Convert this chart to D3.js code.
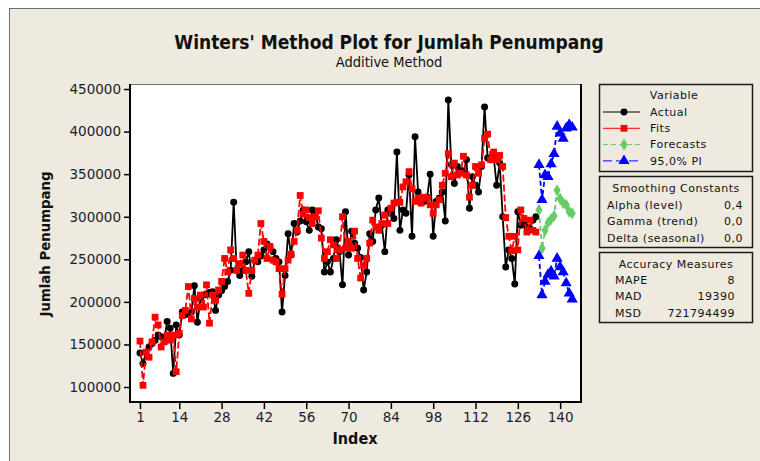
<!DOCTYPE html>
<html>
<head>
<meta charset="utf-8">
<script src="https://cdn.jsdelivr.net/npm/d3@7"></script>
<style>
  html, body { margin: 0; padding: 0; background: #ffffff; }
  svg { display: block; font-family: "DejaVu Sans", Verdana, sans-serif; }
</style>
</head>
<body>
<svg id="chart" width="760" height="461"></svg>
<script>

// values, index 1..132 actual / fits
var actual = [
    140000, 127500, 141000, 147000, 151000, 155000, 161000, 159000, 155000, 177000,
    169000, 116000, 173000, 161000, 188000, 185000, 186000, 188000, 219000, 176000,
    203000, 208000, 209000, 211000, 212000, 190000, 208000, 213000, 218000, 224000,
    237000, 317000, 237000, 231000, 237000, 247000, 259000, 230000, 249000, 247000,
    254000, 261000, 268000, 265000, 259000, 251000, 247000, 188000, 231000, 280000,
    255000, 292000, 282000, 295000, 308000, 294000, 284000, 308000, 305000, 288000,
    286000, 235000, 247000, 235000, 251000, 273000, 259000, 220000, 306000, 255000,
    283000, 269000, 263000, 252000, 214000, 235000, 280000, 271000, 308000, 322000,
    290000, 259000, 308000, 304000, 298000, 376000, 284000, 308000, 304000, 349000,
    277000, 394000, 329000, 318000, 318000, 323000, 350000, 277000, 318000, 322000,
    329000, 295000, 437000, 361000, 339000, 359000, 355000, 353000, 367000, 310000,
    347000, 337000, 329000, 359000, 429000, 369000, 367000, 371000, 337000, 363000,
    300000, 241000, 261000, 251000, 221000, 306000, 290000, 292000, 288000, 286000,
    296000, 300000
];

var fits = [
    154000, 102000, 141000, 135000, 153000, 182000, 173000, 147000, 153000, 161000,
    155000, 161000, 118000, 163000, 184000, 190000, 218000, 180000, 204000, 194000,
    208000, 194000, 220000, 175000, 208000, 202000, 214000, 224000, 251000, 235000,
    261000, 251000, 237000, 245000, 255000, 237000, 210000, 237000, 249000, 255000,
    292000, 271000, 251000, 265000, 249000, 247000, 239000, 209000, 239000, 249000,
    256000, 271000, 284000, 325000, 303000, 308000, 299000, 292000, 300000, 307000,
    275000, 251000, 259000, 273000, 267000, 251000, 261000, 300000, 263000, 271000,
    263000, 283000, 251000, 228000, 243000, 251000, 269000, 296000, 288000, 284000,
    292000, 302000, 292000, 310000, 316000, 317000, 317000, 335000, 341000, 353000,
    333000, 318000, 322000, 316000, 323000, 322000, 314000, 304000, 314000, 320000,
    337000, 351000, 374000, 347000, 363000, 349000, 351000, 371000, 349000, 323000,
    337000, 359000, 351000, 361000, 392000, 397000, 367000, 376000, 367000, 372000,
    359000, 299000, 277000, 260000, 277000, 261000, 308000, 298000, 282000, 296000,
    284000, 282000
];

// index 133..144
var forecasts = [308000, 263000, 284000, 293000, 297000, 301000, 331000, 321000, 316000, 314000, 306000, 304000];
var piUpper = [361000, 320000, 349000, 347000, 362000, 374000, 406000, 398000, 392000, 404000, 408000, 405000];
var piLower = [254000, 208000, 224000, 232000, 236000, 230000, 251000, 241000, 235000, 222000, 210000, 203000];

var xTicks = [1, 14, 28, 42, 56, 70, 84, 98, 112, 126, 140];
var yTicks = [100000, 150000, 200000, 250000, 300000, 350000, 400000, 450000];

var legendItems = ['Actual', 'Fits', 'Forecasts', '95,0% PI'];
var smoothLabels = ['Alpha (level)', 'Gamma (trend)', 'Delta (seasonal)'];
var smoothValues = ['0,4', '0,0', '0,0'];
var accuracyLabels = ['MAPE', 'MAD', 'MSD'];
var accuracyValues = ['8', '19390', '721794499'];

var svg = d3.select('#chart');

var plotLeft = 130,
    plotRight = 581,
    plotTop = 84,
    plotBottom = 402;

var bg = '#eeeae0';

// outer panel
svg.append('rect')
    .attr('x', 9.5)
    .attr('y', 8.5)
    .attr('width', 760)
    .attr('height', 460)
    .style('fill', bg)
    .style('stroke', '#6e6e6e')
    .style('stroke-width', 1);

svg.append('rect')
    .attr('x', plotLeft)
    .attr('y', plotTop)
    .attr('width', plotRight - plotLeft)
    .attr('height', plotBottom - plotTop)
    .style('fill', '#ffffff');

var x = d3.scaleLinear()
    .domain([ -2.3, 146.9 ])
    .range([ plotLeft, plotRight ]);

var y = d3.scaleLinear()
    .domain([ 82400, 455900 ])
    .range([ plotBottom, plotTop ]);

var actualPts = actual.map( function ( d, i ) { return [ i + 1, d ]; });
var fitPts = fits.map( function ( d, i ) { return [ i + 1, d ]; });
var fcPts = forecasts.map( function ( d, i ) { return [ i + 133, d ]; });
var upPts = piUpper.map( function ( d, i ) { return [ i + 133, d ]; });
var loPts = piLower.map( function ( d, i ) { return [ i + 133, d ]; });

var line = d3.line()
    .x( function ( d ) { return x( d[0] ); })
    .y( function ( d ) { return y( d[1] ); });

var plot = svg.append('g');

function drawLine ( pts, color, dash ) {

    plot.append('path')
        .attr('d', line( pts ))
        .style('fill', 'none')
        .style('stroke', color)
        .style('stroke-width', 1.8)
        .style('stroke-dasharray', dash || null);

}

var sym = {
    circle: d3.symbol().type( d3.symbolCircle ).size( 38 ),
    square: d3.symbol().type( d3.symbolSquare ).size( 46 ),
    diamond: d3.symbol().type( d3.symbolDiamond ).size( 44 ),
    triangle: d3.symbol().type( d3.symbolTriangle ).size( 54 )
};

function drawMarks ( pts, shape, color ) {

    plot.append('g')
        .selectAll('path')
        .data( pts )
        .enter().append('path')
        .attr('d', sym[ shape ])
        .attr('transform', function ( d ) { return 'translate(' + x( d[0] ) + ',' + y( d[1] ) + ')'; })
        .style('fill', color);

}

drawLine( actualPts, '#000000' );
drawMarks( actualPts, 'circle', '#000000' );

drawLine( fitPts, '#ff0000', '7,3' );
drawMarks( fitPts, 'square', '#ff0000' );

drawLine( fcPts, '#66cc66', '5,3' );
drawMarks( fcPts, 'diamond', '#66cc66' );

drawLine( upPts, '#0000ff', '5,3' );
drawLine( loPts, '#0000ff', '5,3' );
drawMarks( upPts, 'triangle', '#0000ff' );
drawMarks( loPts, 'triangle', '#0000ff' );

// plot frame: top thin grey, other sides black
svg.append('line')
    .attr('x1', plotLeft).attr('x2', plotRight)
    .attr('y1', plotTop + 0.5).attr('y2', plotTop + 0.5)
    .style('stroke', '#6e6e6e');

svg.append('path')
    .attr('d', 'M' + plotLeft + ',' + plotTop + 'V' + plotBottom + 'H' + plotRight + 'V' + plotTop)
    .style('fill', 'none')
    .style('stroke', '#000000')
    .style('stroke-width', 2);

// axes
var xAxis = svg.append('g')
    .attr('transform', 'translate(0,' + ( plotBottom + 1 ) + ')')
    .call( d3.axisBottom( x ).tickValues( xTicks ).tickSize( 6 ).tickPadding( 3 ) );

var yAxis = svg.append('g')
    .attr('transform', 'translate(' + ( plotLeft - 1 ) + ',0)')
    .call( d3.axisLeft( y ).tickValues( yTicks ).tickSize( 5 ).tickPadding( 3 ).tickFormat( d3.format('d') ) );

[ xAxis, yAxis ].forEach( function ( a ) {

    a.select('.domain').remove();
    a.selectAll('.tick line').style('stroke', '#000000').style('stroke-width', 1.5);
    a.selectAll('.tick text')
        .style('font-family', '"DejaVu Sans", sans-serif')
        .style('font-size', '13.5px')
        .style('fill', '#1c1c2c');

});

// titles
svg.append('text')
    .attr('x', 389)
    .attr('y', 49)
    .attr('text-anchor', 'middle')
    .style('font-family', '"DejaVu Sans Condensed", "DejaVu Sans", sans-serif')
    .style('font-weight', 'bold')
    .style('font-size', '19px')
    .style('fill', '#111111')
    .text("Winters' Method Plot for Jumlah Penumpang");

svg.append('text')
    .attr('x', 389)
    .attr('y', 67)
    .attr('text-anchor', 'middle')
    .style('font-family', '"DejaVu Sans Condensed", "DejaVu Sans", sans-serif')
    .style('font-size', '14.5px')
    .style('fill', '#111111')
    .text('Additive Method');

svg.append('text')
    .attr('x', 355)
    .attr('y', 444)
    .attr('text-anchor', 'middle')
    .style('font-family', '"DejaVu Sans Condensed", "DejaVu Sans", sans-serif')
    .style('font-weight', 'bold')
    .style('font-size', '16px')
    .style('fill', '#111111')
    .text('Index');

svg.append('text')
    .attr('transform', 'translate(50,244) rotate(-90)')
    .attr('text-anchor', 'middle')
    .style('font-family', '"DejaVu Sans Condensed", "DejaVu Sans", sans-serif')
    .style('font-weight', 'bold')
    .style('font-size', '14.8px')
    .style('fill', '#111111')
    .text('Jumlah Penumpang');

/* legend boxes */

var boxLeft = 599,
    boxRight = 752;

function box ( top, bottom ) {

    svg.append('rect')
        .attr('x', boxLeft + 0.5)
        .attr('y', top + 0.5)
        .attr('width', boxRight - boxLeft)
        .attr('height', bottom - top)
        .style('fill', 'none')
        .style('stroke', '#1a1a1a')
        .style('stroke-width', 1.5);

}

function label ( tx, ty, str, anchor ) {

    return svg.append('text')
        .attr('x', tx)
        .attr('y', ty)
        .attr('dy', '0.35em')
        .attr('text-anchor', anchor || 'start')
        .style('font-size', '11px')
        .style('letter-spacing', '0.5px')
        .style('fill', '#111111')
        .text( str );

}

box( 84, 171 );
box( 176, 247 );
box( 252, 322 );

label( 674, 95, 'Variable', 'middle' );

var legendStyles = [
    { color: '#000000', shape: 'circle', dash: null },
    { color: '#ff0000', shape: 'square', dash: null },
    { color: '#66cc66', shape: 'diamond', dash: '5,3' },
    { color: '#0000ff', shape: 'triangle', dash: '9,4' }
];

legendItems.forEach( function ( name, i ) {

    var ly = 112 + i * 16.3;
    var st = legendStyles[ i ];

    svg.append('line')
        .attr('x1', 603).attr('x2', 640)
        .attr('y1', ly).attr('y2', ly)
        .style('stroke', st.color)
        .style('stroke-width', 1)
        .style('stroke-dasharray', st.dash);

    svg.append('path')
        .attr('d', sym[ st.shape ])
        .attr('transform', 'translate(624,' + ly + ')')
        .style('fill', st.color);

    label( 650, ly, name );

});

label( 676, 188, 'Smoothing Constants', 'middle' );

smoothLabels.forEach( function ( name, i ) {

    label( 607, 205 + i * 16.5, name );
    label( 743, 205 + i * 16.5, smoothValues[ i ], 'end' );

});

label( 676, 264, 'Accuracy Measures', 'middle' );

accuracyLabels.forEach( function ( name, i ) {

    label( 615, 280 + i * 16.5, name );
    label( 735, 280 + i * 16.5, accuracyValues[ i ], 'end' );

});

</script>
</body>
</html>
